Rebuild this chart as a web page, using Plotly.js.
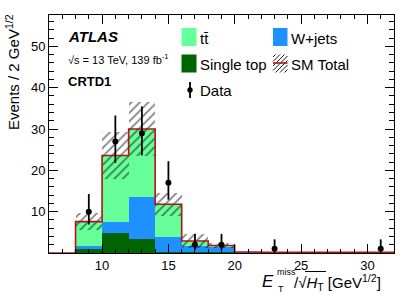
<!DOCTYPE html>
<html>
<head>
<meta charset="utf-8">
<script src="https://cdn.plot.ly/plotly-3.0.1.min.js"></script>
<style>html,body{margin:0;padding:0;background:#fff;}#chart{width:415px;height:298px;}</style>
</head>
<body>
<div id="chart"></div>
<script>
// ---- data ----
const binCenters = [7, 9, 11, 13, 15, 17, 19, 21, 23, 25, 27, 29, 31];
const binEdges   = [6, 8, 10, 12, 14, 16, 18, 20, 22, 24, 26, 28, 30, 32];
const singleTop  = [0, 1.0, 4.8, 3.3, 0.3, 0.3, 0.2, 0.03, 0.02, 0.02, 0.02, 0.02, 0.02];
const wJets      = [0, 0.7, 2.8, 10.3, 3.6, 1.3, 1.2, 0.1, 0.1, 0.1, 0.1, 0.1, 0.1];
const ttbar      = [0, 5.9, 16.0, 16.4, 7.9, 1.3, 0.4, 0.1, 0.06, 0.06, 0.06, 0.06, 0.06];
const smErr      = [0, 2.0, 5.6, 6.5, 2.8, 1.8, 0.6, 0.1, 0.1, 0.1, 0.1, 0.1, 0.1];

const dataX      = [9, 11, 13, 15, 17, 19, 23, 31];
const dataY      = [10, 27, 29, 17, 2, 2, 1, 1];
const dataErrUp  = [4.27, 6.26, 6.47, 5.22, 2.64, 2.64, 2.30, 2.30];
const dataErrDn  = [3.11, 5.16, 5.37, 4.08, 1.29, 1.29, 0.83, 0.83];

const xTickVals = [10, 15, 20, 25, 30];
const yTickVals = [10, 20, 30, 40, 50];

// ---- derived ----
const baseW  = singleTop.slice();
const baseTT = singleTop.map((v, i) => v + wJets[i]);
const total  = baseTT.map((v, i) => v + ttbar[i]);
const errBase = total.map((v, i) => v - smErr[i]);
const errH    = smErr.map(e => 2 * e);
const stepY   = total.concat([total[total.length - 1]]);

const C_TT = '#66ff99', C_W = '#1e90ff', C_ST = '#006400', C_RED = '#b01414';
const FONT = 'Arial, "Liberation Sans", Helvetica, sans-serif';

const traces = [
  {type: 'bar', x: binCenters, y: singleTop, base: 0, width: 2, marker: {color: C_ST, line: {width: 0}}, showlegend: false, hoverinfo: 'skip'},
  {type: 'bar', x: binCenters, y: wJets, base: baseW, width: 2, marker: {color: C_W, line: {width: 0}}, showlegend: false, hoverinfo: 'skip'},
  {type: 'bar', x: binCenters, y: ttbar, base: baseTT, width: 2, marker: {color: C_TT, line: {width: 0}}, showlegend: false, hoverinfo: 'skip'},
  {type: 'bar', x: binCenters, y: errH, base: errBase, width: 2,
   marker: {color: 'rgba(0,0,0,0)', line: {width: 0},
            pattern: {shape: '/', fgcolor: '#000', bgcolor: 'rgba(0,0,0,0)', size: 6, solidity: 0.28, fillmode: 'overlay'}},
   showlegend: false, hoverinfo: 'skip'},
  {type: 'scatter', mode: 'lines', x: binEdges, y: stepY, line: {shape: 'hv', color: C_RED, width: 1.6}, showlegend: false, hoverinfo: 'skip'},
  {type: 'scatter', mode: 'markers', x: dataX, y: dataY,
   marker: {color: '#000', size: 6},
   error_y: {type: 'data', symmetric: false, array: dataErrUp, arrayminus: dataErrDn, color: '#000', thickness: 1.8, width: 0},
   showlegend: false, hoverinfo: 'skip'}
];

// pixel helpers
const L = 49, R = 21, T = 15, B = 45, W = 415 - L - R, H = 298 - T - B;
const px = v => (v - L) / W;
const py = v => (298 - B - v) / H;

function ann(text, x, y, size, opts) {
  return Object.assign({text: text, x: px(x), y: py(y), xref: 'paper', yref: 'paper', showarrow: false,
    xanchor: 'left', yanchor: 'middle', font: {family: FONT, size: size, color: '#000'}}, opts || {});
}
function rect(x0, y0, x1, y1, color) {
  return {type: 'rect', xref: 'paper', yref: 'paper', x0: px(x0), x1: px(x1), y0: py(y1), y1: py(y0),
    fillcolor: color, line: {width: 0}, layer: 'above'};
}
function line(x0, y0, x1, y1, color, w) {
  return {type: 'line', xref: 'paper', yref: 'paper', x0: px(x0), x1: px(x1), y0: py(y0), y1: py(y1),
    line: {color: color, width: w}, layer: 'above'};
}

// hatch for legend box
const hb = {x0: 273, x1: 287.5, y0: 54.5, y1: 72.5};
let hpath = '';
for (let s = -20; s < 20; s += 4.5) {
  let xa = hb.x0 + s, ya = hb.y1, xb = xa + (hb.y1 - hb.y0), yb = hb.y0;
  if (xa < hb.x0) { ya -= (hb.x0 - xa); xa = hb.x0; }
  if (xb > hb.x1) { yb += (xb - hb.x1); xb = hb.x1; }
  if (xa < xb && ya > yb) hpath += `M${px(xa)},${py(ya)}L${px(xb)},${py(yb)}`;
}

const shapes = [
  rect(181.5, 28, 196.5, 46, C_TT),
  rect(273, 28, 287.5, 46, C_W),
  rect(181.5, 54.5, 196.5, 72.5, C_ST),
  {type: 'path', xref: 'paper', yref: 'paper', path: hpath, line: {color: '#000', width: 0.9}, layer: 'above'},
  line(273, 63, 287.5, 63, C_RED, 1.6),
  line(190, 82, 190, 98, '#000', 1.8),
  {type: 'circle', xref: 'paper', yref: 'paper', x0: px(187.3), x1: px(192.7), y0: py(92.7), y1: py(87.3), fillcolor: '#000', line: {width: 0}, layer: 'above'},
  // overline of sqrt in x title
  line(305, 271.5, 326, 271.5, '#000', 1)
];

const annotations = [
  ann('<b><i>ATLAS</i></b>', 66, 36, 15),
  ann('√s = 13 TeV, 139 fb<sup>-1</sup>', 66, 59, 11),
  ann('<b>CRTD1</b>', 66, 81, 13),
  ann('tt̄', 198, 38, 15),
  ann('W+jets', 289, 38, 15),
  ann('Single top', 198, 64, 15),
  ann('SM Total', 289, 64, 15),
  ann('Data', 198, 90, 15),
  ann('Events / 2 GeV<sup>1/2</sup>', 12, 12, 15, {textangle: -90, xanchor: 'center', yanchor: 'top'}),
  ann('<i>E</i>', 260, 281, 17),
  ann('miss', 275, 272, 9),
  ann('T', 276, 289, 9),
  ann('/√<i>H</i><sub>T</sub> [GeV<sup>1/2</sup>]', 292, 282, 15)
];

const axisCommon = {
  showgrid: false, zeroline: false, showline: true, linecolor: '#000', linewidth: 1,
  mirror: 'allticks', ticks: 'inside', tickcolor: '#000', tickwidth: 1,
  tickfont: {family: FONT, size: 13, color: '#000'}
};

const layout = {
  width: 415, height: 298,
  margin: {l: L, r: R, t: T, b: B, pad: 0},
  paper_bgcolor: '#fff', plot_bgcolor: '#fff',
  barmode: 'overlay', bargap: 0,
  showlegend: false,
  xaxis: Object.assign({}, axisCommon, {range: [6, 32], tickvals: xTickVals, ticklen: 9,
    minor: {dtick: 1, tick0: 0, ticks: 'inside', ticklen: 4, tickcolor: '#000', tickwidth: 1}}),
  yaxis: Object.assign({}, axisCommon, {range: [0, 57.6], tickvals: yTickVals, ticklen: 9,
    minor: {dtick: 2, tick0: 0, ticks: 'inside', ticklen: 5, tickcolor: '#000', tickwidth: 1}}),
  shapes: shapes,
  annotations: annotations
};

Plotly.newPlot('chart', traces, layout, {staticPlot: true, displayModeBar: false});
</script>
</body>
</html>
